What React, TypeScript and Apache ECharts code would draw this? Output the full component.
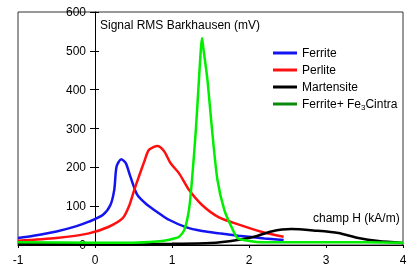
import React, { useEffect, useRef } from "react";
import * as echarts from "echarts";

const xTicks = [-1, 0, 1, 2, 3, 4];
const yTicks = [0, 100, 200, 300, 400, 500, 600];

const seriesNames = ["Ferrite", "Perlite", "Martensite", "Ferrite+ Fe3Cintra"];

const ferrite: [number, number][] = [
  [-1, 18], [-0.8, 24], [-0.5, 35], [-0.25, 48], [-0.08, 60], [0.1, 77], [0.2, 103],
  [0.25, 142], [0.28, 202], [0.34, 221], [0.4, 211], [0.46, 176], [0.55, 129],
  [0.68, 103], [0.83, 82], [0.96, 65], [1.18, 46], [1.39, 36], [1.61, 30],
  [1.86, 24], [2.2, 17], [2.45, 13],
];

const perlite: [number, number][] = [
  [-1, 11], [-0.5, 18], [-0.08, 30], [0.18, 47], [0.36, 69], [0.44, 99], [0.51, 142],
  [0.57, 176], [0.64, 215], [0.7, 245], [0.81, 255], [0.9, 241], [0.98, 211],
  [1.09, 185], [1.22, 142], [1.39, 103], [1.61, 71], [1.86, 53], [2.16, 34], [2.45, 21],
];

const martensite: [number, number][] = [
  [-1, 2], [0, 2], [1, 3], [1.5, 5], [1.85, 13], [2.08, 22], [2.29, 35],
  [2.55, 41], [2.86, 37], [3.16, 31], [3.42, 18], [3.68, 10], [4, 5],
];

const ferriteFe3C: [number, number][] = [
  [-1, 7], [0, 6], [0.5, 6], [0.8, 9], [0.95, 13], [1.05, 18], [1.09, 21],
  [1.16, 39], [1.22, 90], [1.26, 168], [1.31, 297], [1.35, 426], [1.375, 505],
  [1.39, 533], [1.405, 510], [1.46, 426], [1.52, 297], [1.59, 168], [1.68, 90],
  [1.79, 39], [1.85, 18], [1.95, 12], [2.1, 8], [2.5, 7], [3, 7], [3.5, 7], [4, 6],
];

const lineColors = ["#1414f0", "#ff1010", "#000000", "#00ee00"];
const legendColors = ["#1414f0", "#ff1010", "#000000", "#0a8a0a"];

export default function App() {
  const ref = useRef<HTMLDivElement>(null);
  useEffect(() => {
    if (!ref.current) return;
    const chart = echarts.init(ref.current, undefined, { renderer: "svg" });
    const font = "Liberation Sans";
    const datasets = [ferrite, perlite, martensite, ferriteFe3C];
    const gridLeft = 18;
    const yAxisBase = {
      type: "value", min: yTicks[0], max: yTicks[yTicks.length - 1], interval: 100,
      position: "left", splitLine: { show: false },
    };
    chart.setOption({
      animation: false,
      grid: {
        left: gridLeft, right: 9, top: 12, bottom: 23, containLabel: false,
        outerBoundsMode: "none",
        show: true, borderColor: "#333", borderWidth: 1,
      },
      xAxis: {
        type: "value", min: xTicks[0], max: xTicks[xTicks.length - 1], interval: 1,
        axisLine: { onZero: false, lineStyle: { color: "#000", width: 1 } },
        axisTick: { show: true, length: 3, lineStyle: { color: "#000" } },
        axisLabel: { color: "#000", fontSize: 12, fontFamily: font, margin: 9 },
        splitLine: { show: false },
      },
      yAxis: [
        {
          ...yAxisBase,
          axisLine: { show: true, onZero: false, lineStyle: { color: "#000", width: 1 } },
          axisTick: { show: true, length: 5, lineStyle: { color: "#000" } },
          axisLabel: { color: "#000", fontSize: 12, fontFamily: font, margin: 9 },
        },
        {
          ...yAxisBase,
          axisLine: { show: false, onZero: false },
          axisTick: { show: true, inside: true, length: 4, lineStyle: { color: "#000" } },
          axisLabel: { show: false },
        },
      ],
      legend: {
        orient: "vertical", left: 268, top: 41, itemGap: 3,
        itemWidth: 24, itemHeight: 3, icon: "rect",
        textStyle: {
          color: "#000", fontSize: 12, fontFamily: font, lineHeight: 14,
          rich: { sub: { fontSize: 8, fontFamily: font, color: "#000", padding: [6, 0, 0, 0] } },
        },
        formatter: (name: string) => name.replace("Fe3C", "Fe{sub|3}C"),
        data: seriesNames.map((n, i) => ({ name: n, itemStyle: { color: legendColors[i] } })),
      },
      graphic: [
        {
          type: "text", left: 100, top: 19,
          style: { text: "Signal RMS Barkhausen (mV)", font: `12px "${font}"`, fill: "#000" },
        },
        {
          type: "text", left: 313, top: 212,
          style: { text: "champ H (kA/m)", font: `12px "${font}"`, fill: "#000" },
        },
      ],
      series: seriesNames.map((n, i) => ({
        name: n, type: "line", data: datasets[i], showSymbol: false, symbol: "none",
        smooth: 0.25, yAxisIndex: 0,
        lineStyle: { color: lineColors[i], width: 2.5 },
        itemStyle: { color: lineColors[i] },
      })),
    });
    // place the y axis (line, ticks and labels) at x = 0
    const zeroX = chart.convertToPixel({ xAxisIndex: 0 }, 0) as number;
    const off = -(zeroX - gridLeft);
    chart.setOption({ yAxis: [{ offset: off }, { offset: off }] });
    return () => chart.dispose();
  }, []);
  return <div ref={ref} style={{ position: "fixed", left: 0, top: 0, width: 412, height: 268 }} />;
}
